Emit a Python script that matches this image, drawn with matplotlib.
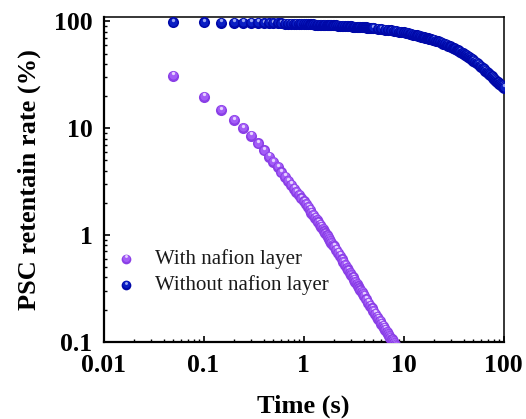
import matplotlib
matplotlib.use("Agg")
import matplotlib.pyplot as plt
import matplotlib.transforms as mtransforms
from matplotlib.ticker import LogLocator, FixedLocator, FixedFormatter, NullFormatter

plt.rcParams["font.family"] = ["Liberation Serif", "DejaVu Serif"]

# Retention data: with nafion layer
t_with = [0.05, 0.10, 0.15, 0.20, 0.25, 0.30, 0.35, 0.40, 0.45, 0.50,
          0.55, 0.60, 0.65, 0.70, 0.75, 0.80, 0.85, 0.90, 0.95, 1.0,
          1.05, 1.1, 1.15, 1.2, 1.25, 1.3, 1.35, 1.4, 1.45, 1.5,
          1.55, 1.6, 1.65, 1.7, 1.75, 1.8, 1.85, 1.9, 1.95, 2.0,
          2.1, 2.2, 2.3, 2.4, 2.5, 2.6, 2.7, 2.8, 2.9, 3.0,
          3.1, 3.2, 3.3, 3.4, 3.5, 3.6, 3.7, 3.8, 3.9, 4.0,
          4.2, 4.4, 4.6, 4.8, 5.0, 5.2, 5.4, 5.6, 5.8, 6.0,
          6.2, 6.4, 6.6, 6.8, 7.0, 7.2, 7.4, 7.6, 7.8, 8.0,
          8.2, 8.4, 8.6, 8.8]
r_with = [31.0, 19.6, 14.7, 11.9, 10.0, 8.5, 7.2, 6.2, 5.4, 4.8,
          4.3, 3.85, 3.5, 3.2, 2.95, 2.72, 2.52, 2.35, 2.2, 2.06,
          1.94, 1.82, 1.72, 1.62, 1.53, 1.45, 1.38, 1.31, 1.25, 1.19,
          1.13, 1.08, 1.035, 0.99, 0.95, 0.91, 0.875, 0.84, 0.81, 0.78,
          0.73, 0.68, 0.635, 0.59, 0.555, 0.52, 0.49, 0.465, 0.44, 0.42,
          0.40, 0.38, 0.362, 0.345, 0.33, 0.315, 0.302, 0.29, 0.279, 0.268,
          0.249, 0.232, 0.218, 0.205, 0.193, 0.182, 0.172, 0.164, 0.156, 0.148,
          0.141, 0.135, 0.129, 0.123, 0.118, 0.113, 0.109, 0.105, 0.101, 0.097,
          0.094, 0.091, 0.088, 0.085]

# Retention data: without nafion layer
t_without = [0.05, 0.10, 0.15, 0.20, 0.25, 0.30, 0.35, 0.40, 0.45, 0.50,
             0.55, 0.60, 0.65, 0.70, 0.75, 0.80, 0.85, 0.90, 0.95, 1.0,
             1.05, 1.1, 1.15, 1.2, 1.25, 1.3, 1.35, 1.4, 1.45, 1.5,
             1.55, 1.6, 1.65, 1.7, 1.75, 1.8, 1.85, 1.9, 1.95, 2.0,
             2.1, 2.2, 2.3, 2.4, 2.5, 2.6, 2.7, 2.8, 2.9, 3.0,
             3.1, 3.2, 3.3, 3.4, 3.5, 3.6, 3.7, 3.8, 3.9, 4.0,
             4.1, 4.2, 4.3, 4.4, 4.5, 4.6, 4.7, 4.8, 4.9, 5.0,
             5.5, 6.0, 6.5, 7.0, 7.5, 8.0, 8.5, 9.0, 9.5, 10,
             10.5, 11, 11.5, 12, 12.5, 13, 13.5, 14, 14.5, 15,
             15.5, 16, 16.5, 17, 17.5, 18, 18.5, 19, 19.5, 20,
             21, 22, 23, 24, 25, 26, 27, 28, 29, 30,
             31, 32, 33, 34, 35, 36, 37, 38, 39, 40,
             41, 42, 43, 44, 45, 46, 47, 48, 49, 50,
             52, 54, 56, 58, 60, 62, 64, 66, 68, 70,
             72, 74, 76, 78, 80, 82, 84, 86, 88, 90,
             92, 94, 96, 98, 100]
r_without = [98.0, 97.8, 97.6, 97.4, 97.2, 97.0, 96.8, 96.6, 96.4, 96.2,
             96.0, 95.8, 95.6, 95.4, 95.2, 95.0, 94.8, 94.6, 94.4, 94.2,
             94.1, 94.0, 93.9, 93.8, 93.65, 93.5, 93.4, 93.3, 93.2, 93.1,
             93.0, 92.9, 92.75, 92.6, 92.5, 92.4, 92.25, 92.1, 92.0, 91.9,
             91.7, 91.5, 91.25, 91.0, 90.8, 90.6, 90.4, 90.2, 90.0, 89.8,
             89.6, 89.45, 89.3, 89.1, 88.9, 88.75, 88.6, 88.4, 88.25, 88.1,
             87.9, 87.75, 87.55, 87.4, 87.2, 87.05, 86.9, 86.7, 86.5, 86.3,
             85.5, 84.6, 83.8, 83.0, 82.3, 81.6, 80.9, 80.2, 79.6, 79.0,
             78.3, 77.6, 76.8, 76.0, 75.3, 74.5, 73.9, 73.3, 72.7, 72.1,
             71.5, 70.9, 70.4, 69.8, 69.3, 68.8, 68.3, 67.8, 67.4, 67.0,
             65.9, 64.9, 63.9, 63.0, 62.1, 61.2, 60.3, 59.3, 58.4, 57.5,
             56.7, 55.9, 55.1, 54.3, 53.5, 52.7, 51.9, 51.1, 50.3, 49.5,
             48.8, 48.2, 47.5, 46.9, 46.2, 45.6, 44.9, 44.3, 43.6, 43.0,
             41.9, 40.8, 39.7, 38.6, 37.5, 36.6, 35.6, 34.7, 33.7, 32.8,
             32.0, 31.3, 30.5, 29.8, 29.0, 28.4, 27.9, 27.3, 26.8, 26.2,
             25.8, 25.3, 24.9, 24.4, 24.0]

labels = ["With nafion layer", "Without nafion layer"]
x_ticks = [0.01, 0.1, 1, 10, 100]
x_ticklabels = ["0.01", "0.1", "1", "10", "100"]
y_ticks = [0.1, 1, 10, 100]
y_ticklabels = ["0.1", "1", "10", "100"]

# ball shading: (dark rim, body, highlight)
purple = ("#8a3fe6", "#a35cf7", "#e6d2ff")
blue = ("#0008a8", "#0a1ec4", "#9aa6f0")

fig = plt.figure(figsize=(5.26, 4.19), dpi=100)
ax = fig.add_axes([0.1968, 0.1845, 0.7605, 0.7759])
ax.set_xscale("log")
ax.set_yscale("log")


def draw_balls(ax, xs, ys, shade, size=8.0, z=3, transform=None):
    """Draw shaded spheres one by one so later balls overlap earlier ones."""
    tr = transform if transform is not None else ax.transData
    up1 = mtransforms.offset_copy(tr, fig=fig, x=0, y=0.6, units="points")
    up2 = mtransforms.offset_copy(tr, fig=fig, x=0, y=1.8, units="points")
    for i, (x, y) in enumerate(zip(xs, ys)):
        zz = z + i * 0.001
        ax.plot([x], [y], "o", ms=size, mfc=shade[0], mec="none",
                transform=tr, zorder=zz, clip_on=True)
        ax.plot([x], [y], "o", ms=size * 0.72, mfc=shade[1], mec="none",
                transform=up1, zorder=zz + 0.0002, clip_on=True)
        ax.plot([x], [y], "o", ms=size * 0.3, mfc=shade[2], mec="none",
                transform=up2, zorder=zz + 0.0004, clip_on=True)


draw_balls(ax, t_with, r_with, purple, z=3)
draw_balls(ax, t_without, r_without, blue, z=4)

ax.set_xlim(0.01, 100)
ax.set_ylim(0.1, 111)

# ticks
ax.xaxis.set_major_locator(FixedLocator(x_ticks))
ax.xaxis.set_major_formatter(FixedFormatter(x_ticklabels))
ax.yaxis.set_major_locator(FixedLocator(y_ticks))
ax.yaxis.set_major_formatter(FixedFormatter(y_ticklabels))
ax.xaxis.set_minor_locator(LogLocator(base=10, subs=range(2, 10), numticks=20))
ax.yaxis.set_minor_locator(LogLocator(base=10, subs=range(2, 10), numticks=20))
ax.xaxis.set_minor_formatter(NullFormatter())
ax.yaxis.set_minor_formatter(NullFormatter())
ax.tick_params(which="major", direction="in", length=4, width=1.2,
               labelsize=18.5, top=False, right=False)
ax.tick_params(axis="x", which="major", pad=8.5)
ax.tick_params(axis="y", which="major", pad=8)
ax.tick_params(which="minor", direction="in", length=2.2, width=1.0,
               top=False, right=False)
for lab in ax.get_xticklabels() + ax.get_yticklabels():
    lab.set_fontweight("bold")

for side in ["left", "bottom"]:
    ax.spines[side].set_linewidth(1.6)
for side in ["top", "right"]:
    ax.spines[side].set_linewidth(1.1)

ax.set_xlabel("Time (s)", fontsize=19, fontweight="bold", labelpad=13)
ax.set_ylabel("PSC retentain rate (%)", fontsize=19, fontweight="bold", labelpad=9)

# legend drawn with the same shaded balls
draw_balls(ax, [0.056], [0.255], purple, size=7.0, z=6, transform=ax.transAxes)
draw_balls(ax, [0.056], [0.174], blue, size=7.0, z=6, transform=ax.transAxes)
ax.text(0.128, 0.255, labels[0], transform=ax.transAxes, fontsize=15,
        va="center", ha="left", color="#1a1a1a")
ax.text(0.128, 0.174, labels[1], transform=ax.transAxes, fontsize=15,
        va="center", ha="left", color="#1a1a1a")

fig.savefig("out.png", dpi=100)
